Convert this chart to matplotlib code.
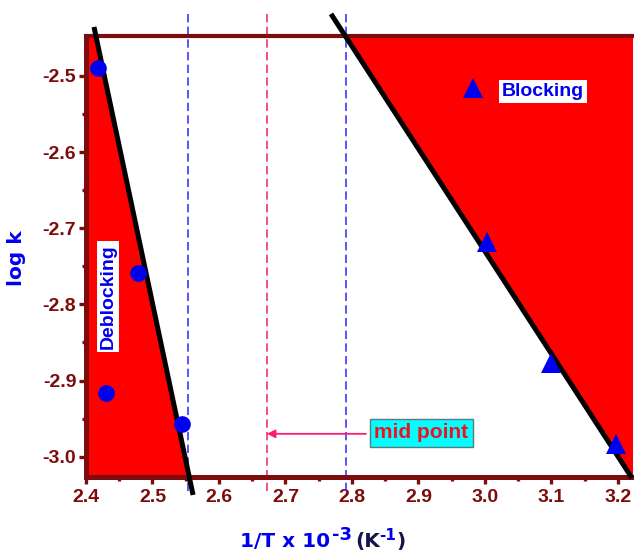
import numpy as np
import matplotlib
matplotlib.use("Agg")
import matplotlib.pyplot as plt

plt.rcParams['font.family'] = ['Liberation Sans', 'DejaVu Sans']
plt.rcParams['font.weight'] = 'bold'

# ---- data ----
deblock_x = [2.418, 2.478, 2.430, 2.544]
deblock_y = [-2.490, -2.759, -2.916, -2.957]
block_x = [2.982, 3.003, 3.099, 3.197]
block_y = [-2.516, -2.718, -2.877, -2.983]

deblock_fit_x = [2.412, 2.561]
deblock_fit_y = [-2.4356, -3.0503]
block_fit_x = [2.7684, 3.221]
block_fit_y = [-2.4185, -3.028]

onset_x = [2.553, 2.791]
mid_x = 2.672

x_ticks = [2.4, 2.5, 2.6, 2.7, 2.8, 2.9, 3.0, 3.1, 3.2]
y_ticks = [-3.0, -2.9, -2.8, -2.7, -2.6, -2.5]
x_minor = [2.45, 2.55, 2.65, 2.75, 2.85, 2.95, 3.05, 3.15]
y_minor = [-2.95, -2.85, -2.75, -2.65, -2.55]

XMIN, XMAX = 2.4, 3.2226
YMIN, YMAX = -3.0267, -2.4475

DARKRED = '#7d0d0d'
BLUE = '#0000f0'
RED = '#ff0000'
NAVY = '#15154a'
TITLE_FONT = ['DejaVu Sans']

fig = plt.figure(figsize=(6.34, 5.5), dpi=100)
ax = fig.add_axes([86/634, 1-477/550, (633-86)/634, (477-36)/550])


def x_at(fx, fy, y):
    return fx[0] + (y - fy[0]) * (fx[1] - fx[0]) / (fy[1] - fy[0])


# red regions
xl_top = x_at(deblock_fit_x, deblock_fit_y, YMAX)
xl_bot = x_at(deblock_fit_x, deblock_fit_y, YMIN)
ax.fill([XMIN, XMIN, xl_top, xl_bot], [YMIN, YMAX, YMAX, YMIN], color=RED, lw=0, zorder=1)
xr_top = x_at(block_fit_x, block_fit_y, YMAX)
xr_bot = x_at(block_fit_x, block_fit_y, YMIN)
ax.fill([xr_top, XMAX, XMAX, xr_bot], [YMAX, YMAX, YMIN, YMIN], color=RED, lw=0, zorder=1)

# reference dashed lines
for xv in onset_x:
    ax.plot([xv, xv], [-2.418, -3.050], color='#3a3aff', lw=1.2, dashes=(5, 2.6),
            clip_on=False, zorder=2)
ax.plot([mid_x, mid_x], [-2.418, -3.046], color='#f0307a', lw=1.2, dashes=(5, 2.6),
        clip_on=False, zorder=2)

# fit lines
ax.plot(deblock_fit_x, deblock_fit_y, color='black', lw=3.6, clip_on=False, zorder=4,
        solid_capstyle='butt')
ax.plot(block_fit_x, block_fit_y, color='black', lw=3.6, clip_on=False, zorder=4,
        solid_capstyle='butt')

# points
ax.plot(deblock_x, deblock_y, 'o', color=BLUE, ms=12, mew=0, zorder=5, clip_on=False)
ax.plot(block_x, block_y, '^', color=BLUE, ms=15, mew=0, zorder=5, clip_on=False)

# arrow + labels
ax.annotate('', xy=(mid_x, -2.970), xytext=(2.821, -2.970),
            arrowprops=dict(arrowstyle='-|>', color='#ff1a75', lw=1.3,
                            mutation_scale=12, shrinkA=0, shrinkB=0), zorder=6)
ax.text(2.9045, -2.9685, 'mid point', color='#ee1122', fontsize=15, fontweight='bold',
        ha='center', va='center', zorder=7,
        bbox=dict(boxstyle='square,pad=0.22', fc='#00ffff', ec='#5a7a80', lw=1.0))
ax.text(3.0875, -2.520, 'Blocking', color=BLUE, fontsize=14, fontweight='bold',
        ha='center', va='center', zorder=7,
        bbox=dict(boxstyle='square,pad=0.15', fc='white', ec='none'))
ax.text(2.433, -2.790, 'Deblocking', color=BLUE, fontsize=14, fontweight='bold',
        rotation=90, ha='center', va='center', zorder=7,
        bbox=dict(boxstyle='square,pad=0.15', fc='white', ec='none'))

# spines / ticks
for s in ['left', 'bottom', 'top']:
    ax.spines[s].set_color(DARKRED)
    ax.spines[s].set_linewidth(3.6)
    ax.spines[s].set_zorder(3)
ax.spines['top'].set_linewidth(3.0)
ax.spines['right'].set_visible(False)

ax.set_xticks(x_ticks)
ax.set_xticklabels([f'{v:.1f}' for v in x_ticks])
ax.set_yticks(y_ticks)
ax.set_yticklabels([f'{v:.1f}' for v in y_ticks])
ax.set_xticks(x_minor, minor=True)
ax.set_yticks(y_minor, minor=True)
ax.set_xlim(XMIN, XMAX)
ax.set_ylim(YMIN, YMAX)
ax.tick_params(which='major', direction='out', length=5, width=2.4, color=DARKRED,
               labelcolor=DARKRED, labelsize=14, pad=4)
ax.tick_params(which='minor', direction='out', length=3, width=2.4, color=DARKRED)
ax.tick_params(axis='y', which='major', pad=2)
ax.tick_params(top=False, right=False, which='both')
for lab in ax.get_xticklabels() + ax.get_yticklabels():
    lab.set_fontweight('bold')

# axis labels
fig.text(17/634, 1-258/550, 'log k', rotation=90, color=BLUE, fontsize=14.5,
         fontweight='bold', family=TITLE_FONT, ha='center', va='center')
base = 1 - 547/550
sup = 1 - 540/550
fig.text(240.5/634, base, '1/T x 10', color=BLUE, fontsize=14.5, fontweight='bold',
         family=TITLE_FONT, ha='left', va='baseline')
fig.text(332/634, sup, '-3', color=BLUE, fontsize=13, fontweight='bold',
         family=TITLE_FONT, ha='left', va='baseline')
fig.text(355/634, base, '(K', color=NAVY, fontsize=14.5, fontweight='bold',
         family=TITLE_FONT, ha='left', va='baseline')
fig.text(379/634, sup, '-1', color=BLUE, fontsize=11, fontweight='bold',
         family=TITLE_FONT, ha='left', va='baseline')
fig.text(396.5/634, base, ')', color=NAVY, fontsize=14.5, fontweight='bold',
         family=TITLE_FONT, ha='left', va='baseline')

fig.savefig('out.png', dpi=100)
